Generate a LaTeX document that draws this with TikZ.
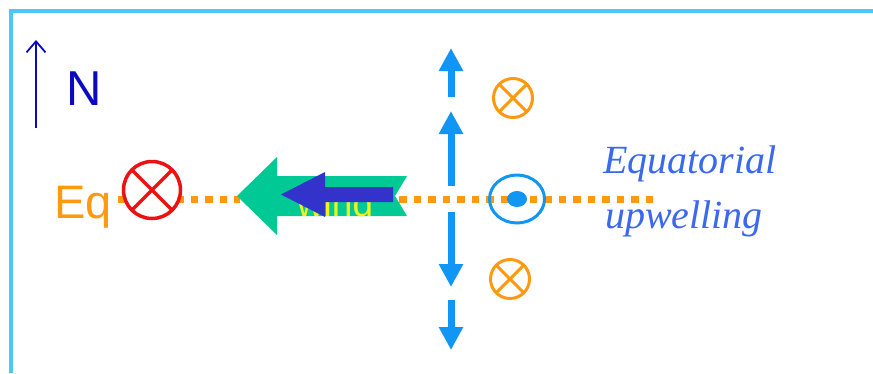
\documentclass[tikz,border=0pt]{standalone}
\usepackage{fontspec}
\setmainfont{Liberation Sans}
\newfontfamily\scriptital{Liberation Serif}[ItalicFont={Liberation Serif Italic}]
\usetikzlibrary{arrows.meta,shapes.geometric}

\definecolor{framecyan}{HTML}{4DC8F0}
\definecolor{northblue}{HTML}{0A0AC0}
\definecolor{eqorange}{HTML}{FF9A10}
\definecolor{crossred}{HTML}{EE1111}
\definecolor{flowblue}{HTML}{1296F5}
\definecolor{windgreen}{HTML}{00C995}
\definecolor{stressblue}{HTML}{3333CC}
\definecolor{windyellow}{HTML}{F2F21E}
\definecolor{labelblue}{HTML}{3A68EE}

\tikzset{
  lbl/.style={inner sep=0pt, outer sep=0pt, anchor=base west},
  crosscirc/.style={circle, draw, inner sep=0pt, outer sep=0pt, fill=white},
  eqline/.style={draw=eqorange, line width=7pt, dash pattern=on 7.5pt off 7pt},
  flowarrow/.style={draw=flowblue, line width=7pt, -{Triangle[width=23pt,length=23pt]}},
}

\begin{document}
\begin{tikzpicture}[x=1pt, y=-1pt]
\useasboundingbox (0,0) rectangle (873,373);

% frame
\coordinate (fbl) at (11,373);
\coordinate (ftl) at (11,11);
\coordinate (ftr) at (873,11);
\draw[framecyan, line width=3.2pt] (fbl) -- (ftl) -- (ftr);

% north indicator
\coordinate (nfoot) at (36,128);
\coordinate (ntip) at (36,40);
\draw[northblue, line width=1.8pt, -{Straight Barb[width=19pt,length=11pt,line width=1.8pt]}] (nfoot) -- (ntip);
\node[lbl, text=northblue, font=\fontsize{49}{49}\selectfont] (north) at (66,105) {N};

% equator line (dotted)
\coordinate (eqa) at (118,199);
\coordinate (eqb) at (240,199);
\coordinate (eqc) at (399,199);
\coordinate (eqd) at (660,199);
\path[eqline] (eqa) -- (eqb);
\path[eqline] (eqc) -- (eqd);

\node[lbl, text=eqorange, font=\fontsize{47}{47}\selectfont] (eqlabel) at (54,218) {Eq};

% into-page current on the equator
\node[crosscirc, draw=crossred, line width=3.5pt, minimum size=57pt] (eqx) at (152,190) {};
\draw[crossred, line width=3.5pt] (eqx.north west) -- (eqx.south east);
\draw[crossred, line width=3.5pt] (eqx.north east) -- (eqx.south west);

% wind arrow
\path[fill=windgreen] (237,196) -- (277,157) -- (277,176) -- (407,176) -- (395,196)
  -- (407,216) -- (277,216) -- (277,235) -- cycle;
\node[lbl, text=windyellow, font=\fontsize{37}{37}\selectfont] (wind) at (297,216) {wind};

% wind stress arrow
\path[fill=stressblue] (281,194.5) -- (325,172) -- (325,187) -- (393,187) -- (393,202)
  -- (325,202) -- (325,217) -- cycle;

% meridional Ekman flow
\coordinate (fa0) at (451,97);  \coordinate (fa1) at (451,48);
\coordinate (fb0) at (451,186); \coordinate (fb1) at (451,111);
\coordinate (fc0) at (451,212); \coordinate (fc1) at (451,287);
\coordinate (fd0) at (451,300); \coordinate (fd1) at (451,350);
\draw[flowarrow] (fa0) -- (fa1);
\draw[flowarrow] (fb0) -- (fb1);
\draw[flowarrow] (fc0) -- (fc1);
\draw[flowarrow] (fd0) -- (fd1);

% off-equator into-page currents
\node[circle, draw=eqorange, line width=3pt, inner sep=0pt, outer sep=0pt, minimum size=39pt] (oxn) at (513,98) {};
\draw[eqorange, line width=3pt] (oxn.north west) -- (oxn.south east);
\draw[eqorange, line width=3pt] (oxn.north east) -- (oxn.south west);
\node[circle, draw=eqorange, line width=3pt, inner sep=0pt, outer sep=0pt, minimum size=39pt] (oxs) at (510,279) {};
\draw[eqorange, line width=3pt] (oxs.north west) -- (oxs.south east);
\draw[eqorange, line width=3pt] (oxs.north east) -- (oxs.south west);

% upwelling (out of page)
\node[ellipse, draw=flowblue, line width=3pt, inner sep=0pt, minimum width=55pt, minimum height=48pt] (up) at (517,199) {};
\node[ellipse, fill=flowblue, inner sep=0pt, minimum width=20pt, minimum height=16pt] (updot) at (up.center) {};

% label
\node[lbl, text=labelblue, font=\scriptital\itshape\fontsize{40}{40}\selectfont] (lab1) at (603,173) {Equatorial};
\node[lbl, text=labelblue, font=\scriptital\itshape\fontsize{40}{40}\selectfont] (lab2) at (605,228) {upwelling};
\end{tikzpicture}
\end{document}
